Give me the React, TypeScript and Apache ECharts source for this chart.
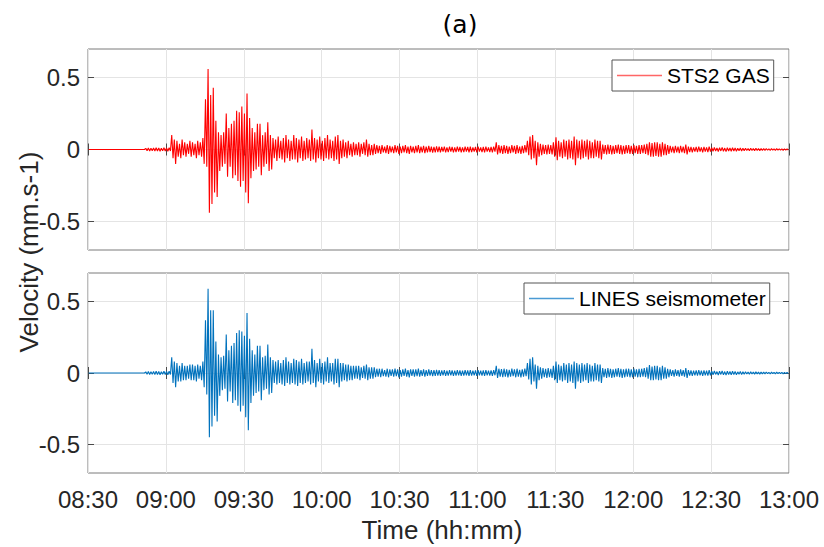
import { useEffect, useRef } from 'react';
import * as echarts from 'echarts';

// minutes since midnight; axis runs 08:30 .. 13:00, one envelope bin per minute
const startMinute = 510;
const endMinute = 780;
const xTickLabels = ['08:30', '09:00', '09:30', '10:00', '10:30', '11:00', '11:30', '12:00', '12:30', '13:00'];
const yTickValues = [-0.5, 0, 0.5];

// STS2 GAS velocity (mm/s): per-minute positive peak and negative peak
const stsHi = [
  0, 0, 0, 0, 0, 0, 0, 0, 0, 0,
  0, 0, 0, 0, 0, 0, 0, 0, 0, 0,
  0, 0, .008, .01, .008, .01, .012, .01, .008, .012,
  .01, .012, .10, .07, .06, .04, .07, .05, .04, .06,
  .05, .04, .06, .05, .08, .35, .56, .38, .43, .20,
  .12, .10, .12, .25, .15, .18, .20, .27, .26, .30,
  .25, .39, .22, .15, .12, .18, .18, .10, .12, .19,
  .10, .08, .07, .09, .06, .08, .10, .07, .06, .10,
  .08, .07, .09, .06, .08, .07, .14, .08, .07, .09,
  .06, .08, .10, .07, .06, .09, .10, .06, .07, .05,
  .06, .04, .05, .04, .05, .04, .05, .07, .04, .03,
  .04, .03, .025, .03, .02, .03, .025, .02, .03, .025,
  .02, .025, .03, .02, .025, .02, .025, .03, .02, .025,
  .02, .025, .02, .018, .022, .02, .018, .02, .015, .02,
  .018, .015, .02, .018, .015, .02, .018, .02, .015, .018,
  .02, .015, .018, .02, .015, .018, .02, .05, .03, .025,
  .03, .025, .02, .03, .025, .03, .02, .025, .03, .06,
  .09, .10, .06, .05, .04, .035, .03, .035, .03, .05,
  .085, .06, .05, .07, .06, .07, .06, .09, .07, .06,
  .07, .06, .07, .06, .05, .07, .06, .06, .035, .03,
  .035, .03, .025, .03, .035, .03, .025, .03, .03, .025,
  .03, .025, .03, .03, .035, .04, .05, .045, .05, .05,
  .04, .05, .04, .03, .025, .02, .025, .02, .025, .02,
  .035, .02, .018, .015, .018, .02, .015, .018, .015, .02,
  .012, .014, .01, .012, .015, .01, .012, .01, .012, .01,
  .008, .01, .008, .009, .007, .008, .007, .008, .006, .007,
  .006, .007, .005, .006, .005, .006, .005, .005, .004, .005,
];
const stsLo = [
  0, 0, 0, 0, 0, 0, 0, 0, 0, 0,
  0, 0, 0, 0, 0, 0, 0, 0, 0, 0,
  0, 0, -.008, -.01, -.008, -.01, -.01, -.012, -.008, -.01,
  -.012, -.01, -.06, -.10, -.05, -.06, -.04, -.05, -.03, -.05,
  -.04, -.06, -.04, -.05, -.10, -.12, -.44, -.38, -.30, -.33,
  -.15, -.12, -.10, -.19, -.12, -.20, -.18, -.22, -.26, -.22,
  -.30, -.375, -.20, -.15, -.14, -.12, -.18, -.12, -.10, -.15,
  -.14, -.06, -.08, -.06, -.07, -.09, -.06, -.08, -.07, -.07,
  -.09, -.06, -.08, -.07, -.06, -.08, -.07, -.09, -.06, -.07,
  -.08, -.06, -.07, -.06, -.08, -.07, -.10, -.06, -.05, -.06,
  -.04, -.05, -.04, -.04, -.05, -.03, -.04, -.05, -.04, -.04,
  -.03, -.025, -.03, -.02, -.025, -.03, -.02, -.025, -.02, -.03,
  -.025, -.02, -.025, -.03, -.02, -.025, -.02, -.025, -.02, -.025,
  -.02, -.018, -.022, -.02, -.018, -.02, -.015, -.02, -.018, -.015,
  -.02, -.018, -.015, -.02, -.018, -.015, -.02, -.018, -.015, -.02,
  -.015, -.018, -.02, -.015, -.018, -.02, -.015, -.035, -.025, -.03,
  -.025, -.03, -.025, -.02, -.03, -.025, -.03, -.025, -.02, -.04,
  -.07, -.06, -.11, -.05, -.04, -.03, -.035, -.03, -.035, -.05,
  -.075, -.05, -.06, -.05, -.07, -.06, -.07, -.11, -.06, -.07,
  -.06, -.05, -.07, -.06, -.06, -.05, -.06, -.07, -.03, -.035,
  -.03, -.035, -.03, -.025, -.03, -.035, -.03, -.025, -.03, -.03,
  -.025, -.03, -.03, -.025, -.03, -.04, -.05, -.05, -.045, -.05,
  -.05, -.04, -.04, -.03, -.02, -.025, -.02, -.025, -.02, -.025,
  -.035, -.018, -.02, -.015, -.018, -.015, -.02, -.015, -.018, -.015,
  -.012, -.01, -.014, -.01, -.012, -.015, -.01, -.012, -.01, -.012,
  -.008, -.01, -.008, -.007, -.009, -.007, -.008, -.006, -.008, -.006,
  -.006, -.005, -.007, -.005, -.006, -.005, -.005, -.006, -.004, -.005,
];

// LINES seismometer velocity (mm/s): per-minute positive peak and negative peak
const linesHi = [
  0, 0, 0, 0, 0, 0, 0, 0, 0, 0,
  0, 0, 0, 0, 0, 0, 0, 0, 0, 0,
  0, 0, .008, .01, .009, .01, .012, .01, .009, .012,
  .01, .012, .11, .08, .07, .05, .07, .05, .05, .06,
  .06, .05, .06, .05, .08, .37, .59, .44, .44, .22,
  .13, .11, .12, .27, .16, .19, .21, .28, .30, .29,
  .26, .42, .24, .16, .13, .19, .19, .11, .12, .20,
  .11, .09, .08, .09, .07, .09, .11, .08, .07, .10,
  .09, .08, .10, .07, .08, .08, .17, .09, .07, .10,
  .07, .08, .11, .07, .07, .10, .10, .07, .07, .06,
  .06, .05, .05, .05, .05, .04, .05, .06, .04, .04,
  .04, .03, .03, .03, .02, .03, .025, .025, .03, .025,
  .02, .025, .03, .02, .025, .025, .025, .03, .02, .025,
  .02, .025, .02, .02, .022, .02, .018, .02, .016, .02,
  .018, .016, .02, .018, .016, .02, .018, .02, .016, .018,
  .02, .016, .018, .02, .016, .018, .02, .05, .03, .028,
  .03, .025, .022, .03, .025, .03, .022, .025, .03, .07,
  .10, .11, .06, .05, .04, .035, .03, .035, .03, .05,
  .08, .06, .05, .07, .06, .07, .06, .08, .07, .06,
  .07, .06, .07, .06, .05, .07, .06, .06, .035, .03,
  .035, .03, .025, .03, .035, .03, .025, .03, .03, .025,
  .03, .025, .03, .03, .035, .04, .055, .045, .05, .05,
  .04, .05, .04, .03, .025, .02, .025, .02, .025, .02,
  .035, .02, .018, .016, .018, .02, .016, .018, .016, .02,
  .012, .014, .01, .012, .015, .01, .012, .01, .012, .01,
  .008, .01, .008, .009, .007, .008, .007, .008, .006, .007,
  .006, .007, .005, .006, .005, .006, .005, .005, .004, .005,
];
const linesLo = [
  0, 0, 0, 0, 0, 0, 0, 0, 0, 0,
  0, 0, 0, 0, 0, 0, 0, 0, 0, 0,
  0, 0, -.008, -.01, -.008, -.01, -.01, -.012, -.009, -.01,
  -.012, -.01, -.07, -.10, -.06, -.06, -.05, -.05, -.04, -.05,
  -.05, -.06, -.04, -.05, -.10, -.15, -.45, -.375, -.30, -.34,
  -.16, -.12, -.11, -.20, -.13, -.21, -.19, -.23, -.27, -.23,
  -.31, -.40, -.21, -.16, -.14, -.13, -.19, -.12, -.11, -.15,
  -.14, -.07, -.08, -.07, -.08, -.09, -.07, -.08, -.07, -.08,
  -.09, -.07, -.08, -.07, -.06, -.08, -.07, -.10, -.06, -.07,
  -.08, -.06, -.07, -.06, -.08, -.07, -.10, -.06, -.05, -.06,
  -.05, -.05, -.04, -.04, -.05, -.035, -.04, -.05, -.04, -.04,
  -.03, -.025, -.03, -.022, -.025, -.03, -.02, -.025, -.022, -.03,
  -.025, -.02, -.025, -.03, -.02, -.025, -.022, -.025, -.02, -.025,
  -.02, -.018, -.022, -.02, -.018, -.02, -.016, -.02, -.018, -.016,
  -.02, -.018, -.016, -.02, -.018, -.016, -.02, -.018, -.016, -.02,
  -.016, -.018, -.02, -.016, -.018, -.02, -.016, -.035, -.025, -.03,
  -.025, -.03, -.025, -.022, -.03, -.025, -.03, -.025, -.022, -.045,
  -.08, -.06, -.11, -.05, -.04, -.03, -.035, -.03, -.035, -.05,
  -.07, -.05, -.06, -.05, -.07, -.06, -.07, -.11, -.06, -.07,
  -.06, -.05, -.07, -.06, -.06, -.05, -.06, -.07, -.03, -.035,
  -.03, -.035, -.03, -.025, -.03, -.035, -.03, -.025, -.03, -.03,
  -.025, -.03, -.03, -.025, -.03, -.04, -.05, -.05, -.045, -.05,
  -.05, -.04, -.04, -.03, -.02, -.025, -.02, -.025, -.02, -.025,
  -.035, -.018, -.02, -.016, -.018, -.016, -.02, -.016, -.018, -.016,
  -.012, -.01, -.014, -.01, -.012, -.015, -.01, -.012, -.01, -.012,
  -.008, -.01, -.008, -.007, -.009, -.007, -.008, -.006, -.008, -.006,
  -.006, -.005, -.007, -.005, -.006, -.005, -.005, -.006, -.004, -.005,
];

function buildTrace(hi: number[], lo: number[]) {
  const pts: [number, number][] = [];
  hi.forEach((h, i) => {
    pts.push([startMinute + i + 0.25, h]);
    pts.push([startMinute + i + 0.75, lo[i]]);
  });
  return pts;
}

const FONT = 'Liberation Sans, Arial, sans-serif';
const frameColor = '#7a7a7a';
const tickColor = '#4a4a4a';
const gridColor = '#e4e4e4';

function xAxisCfg(gridIndex: number, position: 'top' | 'bottom', showLabel: boolean, showSplit: boolean) {
  return {
    type: 'value',
    gridIndex,
    position,
    min: startMinute,
    max: endMinute,
    interval: 30,
    axisLine: { show: false },
    axisTick: { show: true, inside: true, length: 6, lineStyle: { color: tickColor, width: 1 } },
    axisLabel: {
      show: showLabel,
      margin: 14,
      fontFamily: FONT,
      fontSize: 24,
      color: '#262626',
      formatter: (v: number) => xTickLabels[Math.round((v - startMinute) / 30)] ?? '',
    },
    splitLine: { show: showSplit, lineStyle: { color: gridColor, width: 1 } },
  };
}

function yAxisCfg(gridIndex: number, position: 'left' | 'right', showLabel: boolean, showSplit: boolean) {
  return {
    type: 'value',
    gridIndex,
    position,
    min: -0.7,
    max: 0.7,
    axisLine: { show: false },
    axisTick: { show: true, inside: true, length: 6, customValues: yTickValues, lineStyle: { color: tickColor, width: 1 } },
    axisLabel: {
      show: showLabel,
      customValues: yTickValues,
      margin: 8,
      fontFamily: FONT,
      fontSize: 24,
      color: '#262626',
      formatter: (v: number) => (v === 0 ? '0' : v.toFixed(1)),
    },
    splitLine: { show: showSplit, lineStyle: { color: gridColor, width: 1 } },
  };
}

function legendCfg(name: string, color: string, left: number, top: number) {
  return {
    data: [{ name, itemStyle: { color, borderWidth: 0, borderColor: color } }],
    left,
    top,
    icon: 'rect',
    itemWidth: 45,
    itemHeight: 1.3,
    padding: [5, 4, 5, 5],
    borderColor: '#555',
    borderWidth: 1,
    backgroundColor: '#fff',
    selectedMode: false,
    textStyle: { fontFamily: FONT, fontSize: 21, color: '#000' },
  };
}

export default function App() {
  const ref = useRef<HTMLDivElement>(null);
  useEffect(() => {
    if (!ref.current) return;
    const chart = echarts.init(ref.current, undefined, { renderer: 'svg' });
    chart.setOption({
      animation: false,
      backgroundColor: '#ffffff',
      grid: [
        { left: 88, top: 49, width: 701, height: 201, show: true, borderColor: frameColor, borderWidth: 1, backgroundColor: '#fff' },
        { left: 88, top: 273, width: 701, height: 200, show: true, borderColor: frameColor, borderWidth: 1, backgroundColor: '#fff' },
      ],
      xAxis: [
        xAxisCfg(0, 'bottom', false, true),
        xAxisCfg(0, 'top', false, false),
        xAxisCfg(1, 'bottom', true, true),
        xAxisCfg(1, 'top', false, false),
      ],
      yAxis: [
        yAxisCfg(0, 'left', true, true),
        yAxisCfg(0, 'right', false, false),
        yAxisCfg(1, 'left', true, true),
        yAxisCfg(1, 'right', false, false),
      ],
      legend: [
        legendCfg('STS2 GAS', '#ff6666', 612, 60),
        legendCfg('LINES seismometer', '#4a9ad4', 524, 283),
      ],
      graphic: [
        {
          type: 'text',
          x: 460,
          y: 24,
          style: { text: '(a)', font: '25px "DejaVu Sans"', fill: '#000', textAlign: 'center', textVerticalAlign: 'middle' },
        },
        {
          type: 'text',
          x: 442,
          y: 530,
          style: { text: 'Time (hh:mm)', font: `26px ${FONT}`, fill: '#262626', textAlign: 'center', textVerticalAlign: 'middle' },
        },
        {
          type: 'text',
          x: 29,
          y: 252,
          rotation: Math.PI / 2,
          style: { text: 'Velocity (mm.s-1)', font: `26px ${FONT}`, fill: '#262626', textAlign: 'center', textVerticalAlign: 'middle' },
        },
      ],
      series: [
        {
          type: 'line',
          name: 'STS2 GAS',
          xAxisIndex: 0,
          yAxisIndex: 0,
          data: buildTrace(stsHi, stsLo),
          symbol: 'none',
          showSymbol: false,
          silent: true,
          lineStyle: { color: '#ff0000', width: 1.1 },
          itemStyle: { color: '#ff0000' },
          z: 3,
        },
        {
          type: 'line',
          name: 'LINES seismometer',
          xAxisIndex: 2,
          yAxisIndex: 2,
          data: buildTrace(linesHi, linesLo),
          symbol: 'none',
          showSymbol: false,
          silent: true,
          lineStyle: { color: '#0072bd', width: 1.1 },
          itemStyle: { color: '#0072bd' },
          z: 3,
        },
      ],
    });
    return () => chart.dispose();
  }, []);
  return <div ref={ref} style={{ position: 'fixed', left: 0, top: 0, width: 824, height: 547, background: '#fff' }} />;
}
